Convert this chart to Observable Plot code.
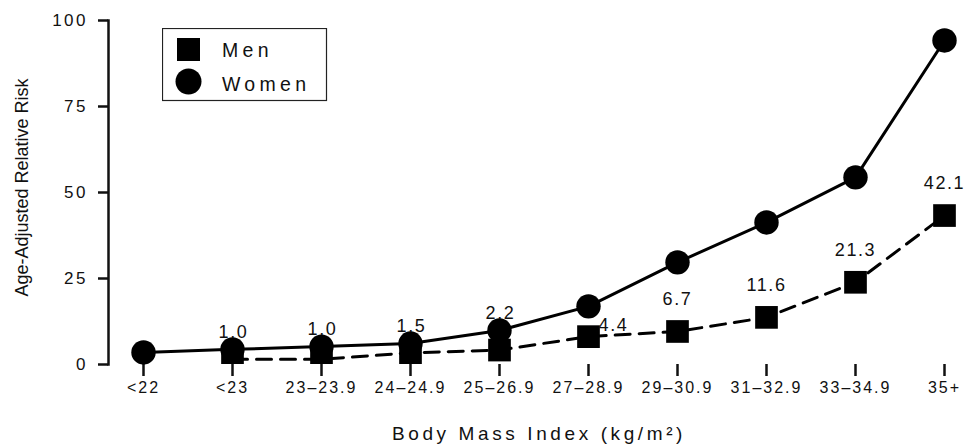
<!DOCTYPE html>
<html>
<head>
<meta charset="utf-8">
<script src="https://cdn.jsdelivr.net/npm/d3@7"></script>
<script src="https://cdn.jsdelivr.net/npm/@observablehq/plot@0.6"></script>
<style>
  html, body { margin: 0; padding: 0; background: #fff; overflow: hidden; }
  #wrap { position: relative; width: 979px; height: 447px; font-family: "Liberation Sans", Arial, Helvetica, sans-serif; }
  #chart svg { display: block; }
  #legend { position: absolute; left: 162px; top: 28px; }
</style>
</head>
<body>
<div id="wrap">
  <div id="chart"></div>
  <svg id="legend" width="166" height="74" xmlns="http://www.w3.org/2000/svg"></svg>
</div>
<script>
// ---- data ----
const categories = ["<22", "<23", "23–23.9", "24–24.9", "25–26.9", "27–28.9", "29–30.9", "31–32.9", "33–34.9", "35+"];
const womenRisk = [3.5, 4.4, 5.2, 6.1, 9.9, 16.9, 29.7, 41.3, 54.4, 94.2];
const menCategories = ["<23", "23–23.9", "24–24.9", "25–26.9", "27–28.9", "29–30.9", "31–32.9", "33–34.9", "35+"];
const menRisk = [1.5, 1.5, 3.4, 4.2, 8.1, 9.6, 13.7, 23.9, 43.3];
const rrLabels = ["1.0", "1.0", "1.5", "2.2", "4.4", "6.7", "11.6", "21.3", "42.1"];
const yTicks = [0, 25, 50, 75, 100];
const seriesNames = ["Men", "Women"];
const xTitle = "Body Mass Index (kg/m²)";
const yTitle = "Age-Adjusted Relative Risk";

// ---- tables ----
const women = categories.map((c, i) => ({bmi: c, risk: womenRisk[i]}));
const men = menCategories.map((c, i) => ({
  bmi: c, risk: menRisk[i], label: rrLabels[i],
  women: womenRisk[categories.indexOf(c)]
}));

const font = "Liberation Sans, Arial, Helvetica, sans-serif";

const svg = Plot.plot({
  width: 979,
  height: 447,
  marginLeft: 108,
  marginRight: 10,
  marginTop: 20,
  marginBottom: 83,
  style: {fontFamily: font, color: "#111", background: "#fff", overflow: "visible"},
  x: {type: "point", domain: categories, range: [139, 947], padding: 0, label: null},
  y: {domain: [0, 100], label: null},
  marks: [
    Plot.axisY({ticks: yTicks, tickSize: 10, tickPadding: 10.5, fontSize: 17, strokeWidth: 2.5, label: null}),
    Plot.axisX({tickSize: 12, tickPadding: 5, fontSize: 16, strokeWidth: 2.5, label: null}),
    Plot.frame({anchor: "left", strokeWidth: 2.5}),
    Plot.ruleY([0], {x2: () => categories[categories.length - 1], strokeWidth: 2.5}),
    Plot.line(men, {x: "bmi", y: "risk", stroke: "#000", strokeWidth: 3, strokeDasharray: "15,9"}),
    Plot.dot(men, {x: "bmi", y: "risk", symbol: "square", r: 12.8, fill: "#000", stroke: "none", clip: true}),
    Plot.line(women, {x: "bmi", y: "risk", stroke: "#000", strokeWidth: 3}),
    Plot.dot(women, {x: "bmi", y: "risk", r: 12.2, fill: "#000", stroke: "none"}),
    // relative-risk annotations
    Plot.text(men.slice(0, 4), {x: "bmi", y: "women", text: "label", dx: 1, dy: -17, fontSize: 18, fill: "#111"}),
    Plot.text(men.slice(4, 5), {x: "bmi", y: "risk", text: "label", dx: 25, dy: -11, fontSize: 18, fill: "#111"}),
    Plot.text(men.slice(5), {x: "bmi", y: "risk", text: "label", dy: -32, fontSize: 18, fill: "#111"}),
    // axis titles
    Plot.text([yTitle], {frameAnchor: "left", textAnchor: "middle", lineAnchor: "middle", rotate: -90, dx: -86, dy: -5, fontSize: 18, fill: "#111"}),
    Plot.text([xTitle], {frameAnchor: "bottom", textAnchor: "middle", lineAnchor: "middle", dy: 69, fontSize: 19, fill: "#111"})
  ]
});

document.getElementById("chart").appendChild(svg);

// letter spacing like the reference typography
const s = d3.select(svg);
s.selectAll('[aria-label="x-axis tick label"] text').attr("letter-spacing", "2px");
s.selectAll('[aria-label="y-axis tick label"] text').attr("letter-spacing", "2.5px");
s.selectAll("text").filter(function () { return rrLabels.includes(this.textContent); }).attr("letter-spacing", "1.6px");
s.selectAll("text").filter(function () { return this.textContent === xTitle; }).attr("letter-spacing", "3.6px");

// legend (drawn over the plot area, top-left)
const lg = d3.select("#legend");
lg.append("rect").attr("x", 0.5).attr("y", 0.5).attr("width", 164).attr("height", 72)
  .attr("fill", "#fff").attr("stroke", "#222").attr("stroke-width", 1.2);
lg.append("rect").attr("x", 15).attr("y", 10).attr("width", 23).attr("height", 23).attr("fill", "#000");
lg.append("circle").attr("cx", 26.5).attr("cy", 53.5).attr("r", 13).attr("fill", "#000");
lg.selectAll("text.lab").data(seriesNames).join("text")
  .attr("x", 60)
  .attr("y", (d, i) => i === 0 ? 22 : 56)
  .attr("dy", "0.36em")
  .attr("font-family", font)
  .attr("font-size", 19.5)
  .attr("letter-spacing", "4.3px")
  .attr("fill", "#111")
  .text(d => d);
</script>
</body>
</html>
